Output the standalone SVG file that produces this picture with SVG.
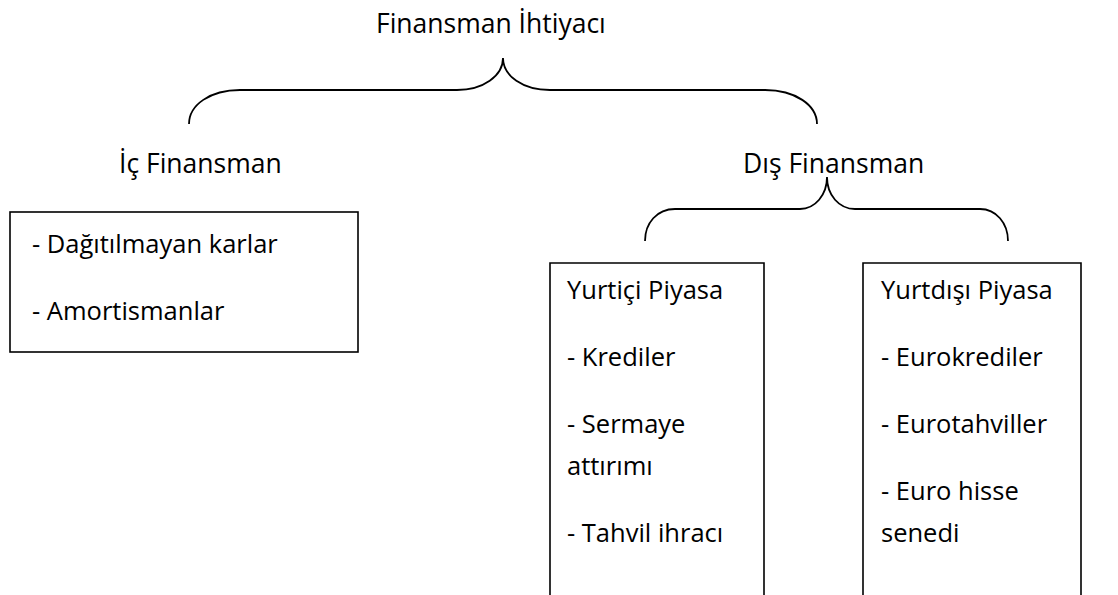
<svg xmlns="http://www.w3.org/2000/svg" width="1118" height="595" viewBox="0 0 1118 595">
<style>
text{font-family:"Open Sans","Noto Sans",sans-serif;font-size:25.5px;fill:#000}
.h{font-size:26.5px}
.box{fill:none;stroke:#000;stroke-width:1.6}
.brace{fill:none;stroke:#000;stroke-width:1.8}
</style>
<rect width="1118" height="595" fill="#fff"/>
<g id="connectors">
<path class="brace" d="M189,124 C189,105 210,90 240,90 L457,90 C483,90 503,76 503,58 C503,76 523,90 550,90 L765,90 C795,90 817,105 817,124"/>
<path class="brace" d="M645,241 C645,223 657,209 675,209 L800,209 C815,209 827,195 827,177 C827,195 839,209 855,209 L980,209 C996,209 1008,223 1008,241"/>
</g>
<g id="root"><text class="h" x="376" y="33">Finansman İhtiyacı</text></g>
<g id="ic"><text class="h" x="119" y="173">İç Finansman</text></g>
<g id="dis"><text class="h" x="743" y="173">Dış Finansman</text></g>
<g id="ic-box">
<rect class="box" x="10" y="212" width="348" height="140"/>
<text x="32" y="253">- Dağıtılmayan karlar</text>
<text x="32" y="320">- Amortismanlar</text>
</g>
<g id="yurtici">
<path class="box" d="M550,600 V263 H764 V600"/>
<text x="567" y="299">Yurtiçi Piyasa</text>
<text x="567" y="366">- Krediler</text>
<text x="567" y="433">- Sermaye</text>
<text x="567" y="475">attırımı</text>
<text x="567" y="542">- Tahvil ihracı</text>
</g>
<g id="yurtdisi">
<path class="box" d="M863,600 V263 H1081 V600"/>
<text x="881" y="299">Yurtdışı Piyasa</text>
<text x="881" y="366">- Eurokrediler</text>
<text x="881" y="433">- Eurotahviller</text>
<text x="881" y="500">- Euro hisse</text>
<text x="881" y="542">senedi</text>
</g>
</svg>
